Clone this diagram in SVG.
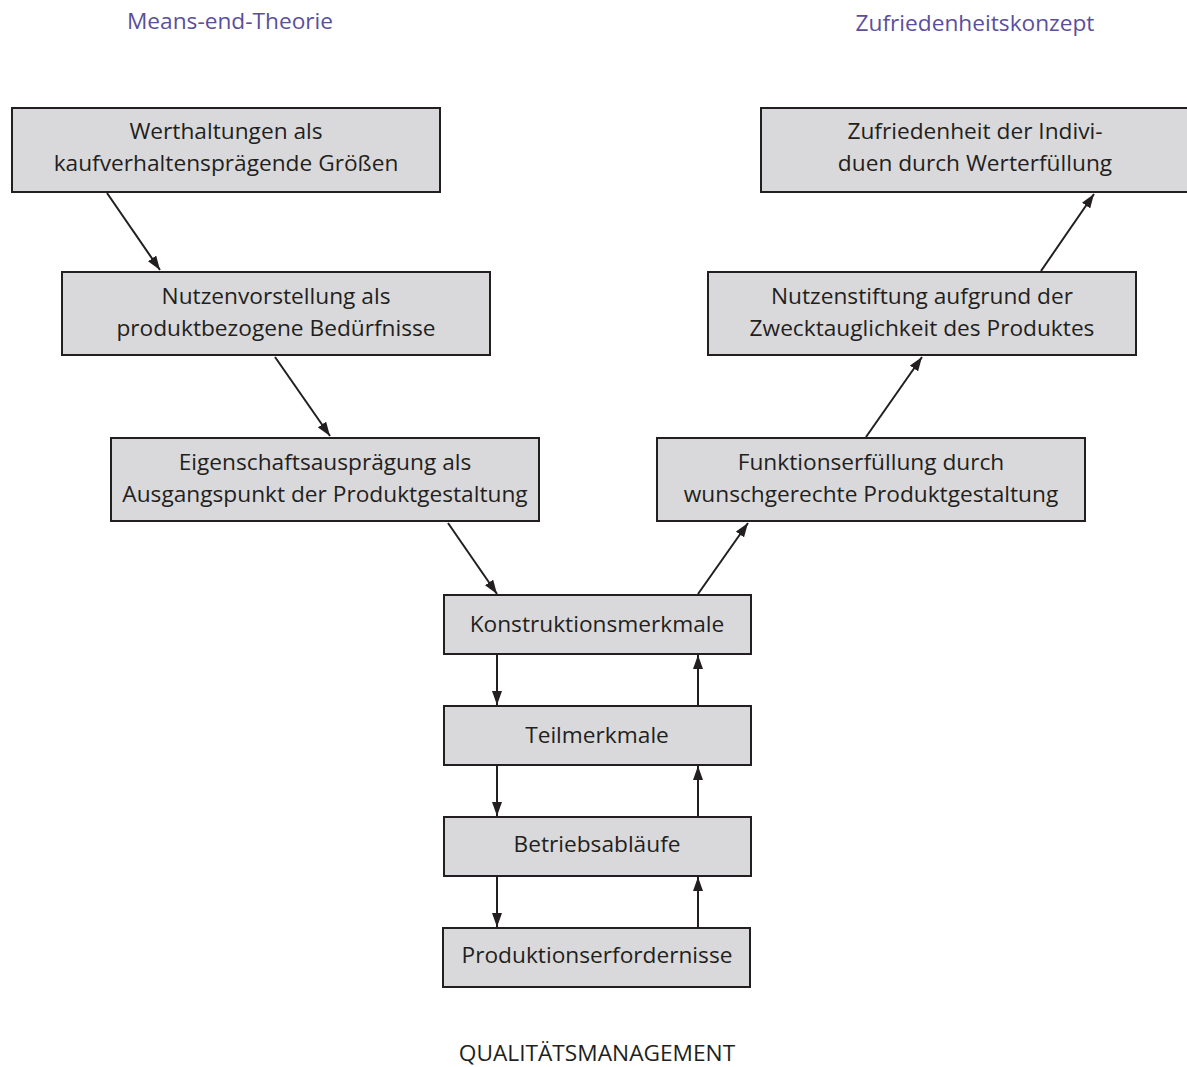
<svg xmlns="http://www.w3.org/2000/svg" width="1187" height="1067" viewBox="0 0 1187 1067">
<defs>
<marker id="ah" viewBox="0 0 14 10" refX="14" refY="5" markerWidth="14" markerHeight="10" markerUnits="userSpaceOnUse" orient="auto">
<path d="M0,0 L14,5 L0,10 z" fill="#231f20"/>
</marker>
<style>
.box{fill:#d9d9db;stroke:#231f20;stroke-width:2}
.t{font-family:"Open Sans","Noto Sans",sans-serif;font-size:22.7px;fill:#231f20;text-anchor:middle}
.h{font-family:"Open Sans","Noto Sans",sans-serif;font-size:22.7px;fill:#5a4f9c;text-anchor:middle}
.c{stroke:#231f20;stroke-width:2;fill:none;marker-end:url(#ah)}
</style>
</defs>
<rect width="1187" height="1067" fill="#ffffff"/>
<text class="h" x="230" y="29">Means-end-Theorie</text>
<text class="h" x="975" y="31">Zufriedenheitskonzept</text>
<g id="n1"><rect class="box" x="12" y="108" width="428" height="84"/><text class="t" x="226" y="139">Werthaltungen als</text><text class="t" x="226" y="171">kaufverhaltensprägende Größen</text></g>
<g id="n2"><rect class="box" x="62" y="272" width="428" height="83"/><text class="t" x="276" y="304">Nutzenvorstellung als</text><text class="t" x="276" y="336">produktbezogene Bedürfnisse</text></g>
<g id="n3"><rect class="box" x="111" y="438" width="428" height="83"/><text class="t" x="325" y="470">Eigenschaftsausprägung als</text><text class="t" x="325" y="502">Ausgangspunkt der Produktgestaltung</text></g>
<g id="n4"><rect class="box" x="761" y="108" width="430" height="84"/><text class="t" x="975" y="139">Zufriedenheit der Indivi-</text><text class="t" x="975" y="171">duen durch Werterfüllung</text></g>
<g id="n5"><rect class="box" x="708" y="272" width="428" height="83"/><text class="t" x="922" y="304">Nutzenstiftung aufgrund der</text><text class="t" x="922" y="336">Zwecktauglichkeit des Produktes</text></g>
<g id="n6"><rect class="box" x="657" y="438" width="428" height="83"/><text class="t" x="871" y="470">Funktionserfüllung durch</text><text class="t" x="871" y="502">wunschgerechte Produktgestaltung</text></g>
<g id="n7"><rect class="box" x="444" y="595" width="307" height="59"/><text class="t" x="597" y="632">Konstruktionsmerkmale</text></g>
<g id="n8"><rect class="box" x="444" y="706" width="307" height="59"/><text class="t" x="597" y="743">Teilmerkmale</text></g>
<g id="n9"><rect class="box" x="444" y="817" width="307" height="59"/><text class="t" x="597" y="852">Betriebsabläufe</text></g>
<g id="n10"><rect class="box" x="443" y="928" width="307" height="59"/><text class="t" x="597" y="963">Produktionserfordernisse</text></g>
<text class="t" x="597" y="1061">QUALITÄTSMANAGEMENT</text>
<g id="connectors">
<line class="c" x1="107" y1="193" x2="160" y2="270"/>
<line class="c" x1="275" y1="357" x2="330" y2="436"/>
<line class="c" x1="448" y1="523" x2="497" y2="594"/>
<line class="c" x1="698" y1="594" x2="748" y2="523"/>
<line class="c" x1="866" y1="437" x2="922" y2="357"/>
<line class="c" x1="1041" y1="271" x2="1094" y2="194"/>
<line class="c" x1="497" y1="655" x2="497" y2="705"/>
<line class="c" x1="497" y1="766" x2="497" y2="816"/>
<line class="c" x1="497" y1="877" x2="497" y2="927"/>
<line class="c" x1="698" y1="705" x2="698" y2="655"/>
<line class="c" x1="698" y1="816" x2="698" y2="766"/>
<line class="c" x1="698" y1="927" x2="698" y2="877"/>
</g>
</svg>
